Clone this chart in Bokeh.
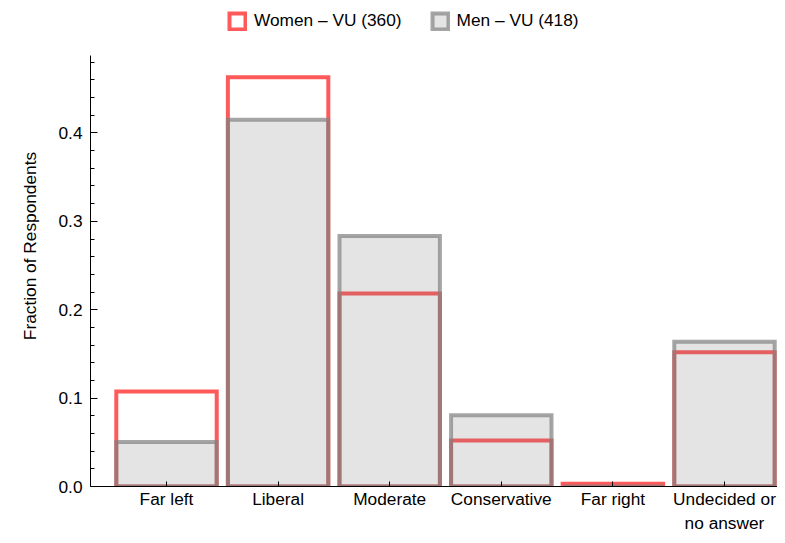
from bokeh.plotting import figure
from bokeh.models import (Range1d, FixedTicker, PrintfTickFormatter, Legend,
                          LegendItem, ColumnDataSource)
from bokeh.embed import file_html
from bokeh.resources import INLINE

# ---- data ----
categories = ["Far left", "Liberal", "Moderate", "Conservative", "Far right",
              "Undecided or\nno answer"]
women = [0.1075, 0.463, 0.2185, 0.052, 0.003, 0.152]
men = [0.0503, 0.415, 0.2835, 0.0805, 0.0, 0.1637]
series_labels = ["Women \u2013 VU (360)", "Men \u2013 VU (418)"]
y_ticks = [0.0, 0.1, 0.2, 0.3, 0.4]
y_axis_top = 0.4879

xs = list(range(1, len(categories) + 1))
src = ColumnDataSource(dict(x=xs, women=women, men=men))

FONT = "Liberation Sans"
FS = "17.3px"

p = figure(width=777, height=535, output_backend="svg", toolbar_location=None,
           x_range=Range1d(0.319, 6.475), y_range=Range1d(0, 0.5442),
           min_border_left=90, min_border_right=0, min_border_top=5,
           min_border_bottom=47)
p.outline_line_color = None
p.xgrid.visible = False
p.ygrid.visible = False
p.background_fill_color = "white"

r_w = p.vbar(x="x", top="women", bottom=0, width=0.9, source=src,
             fill_alpha=0, line_color="#ff5a5a", line_width=4, line_join="miter")
r_m = p.vbar(x="x", top="men", bottom=0, width=0.9, source=src,
             fill_color="#787878", fill_alpha=0.2, line_color="#808080",
             line_alpha=0.7, line_width=4, line_join="miter")

# x axis
xa = p.xaxis[0]
xa.ticker = FixedTicker(ticks=xs)
xa.major_label_overrides = {x: c for x, c in zip(xs, categories)}
xa.major_tick_in = 5
xa.major_tick_out = 0
xa.minor_tick_line_color = None
xa.major_label_standoff = 2
xa.major_label_text_font = FONT
xa.major_label_text_font_size = FS
xa.major_label_text_color = "black"
xa.axis_line_color = "black"
xa.major_tick_line_color = "black"

# y axis
ya = p.yaxis[0]
ya.bounds = (0, y_axis_top)
ya.ticker = FixedTicker(ticks=y_ticks,
                        minor_ticks=[round(0.02 * k, 2) for k in range(25)])
ya.formatter = PrintfTickFormatter(format="%.1f")
ya.major_tick_in = 7
ya.major_tick_out = 0
ya.minor_tick_in = 4
ya.minor_tick_out = 0
ya.major_label_standoff = 8
ya.major_label_text_font = FONT
ya.major_label_text_font_size = FS
ya.major_label_text_color = "black"
ya.axis_label = "Fraction of Respondents"
ya.axis_label_text_font = FONT
ya.axis_label_text_font_size = FS
ya.axis_label_text_font_style = "normal"
ya.axis_label_text_color = "black"
ya.axis_label_standoff = 15
ya.axis_line_color = "black"
ya.major_tick_line_color = "black"
ya.minor_tick_line_color = "black"

legend = Legend(items=[LegendItem(label=series_labels[0], renderers=[r_w]),
                       LegendItem(label=series_labels[1], renderers=[r_m])],
                orientation="horizontal", location=(137, 455),
                border_line_alpha=0, background_fill_alpha=0,
                padding=0, margin=0, spacing=28,
                glyph_width=20, glyph_height=20, label_height=20,
                label_standoff=7, label_text_font=FONT,
                label_text_font_size=FS, label_text_color="black")
p.add_layout(legend)

open("out.html", "w").write(file_html(p, INLINE))
